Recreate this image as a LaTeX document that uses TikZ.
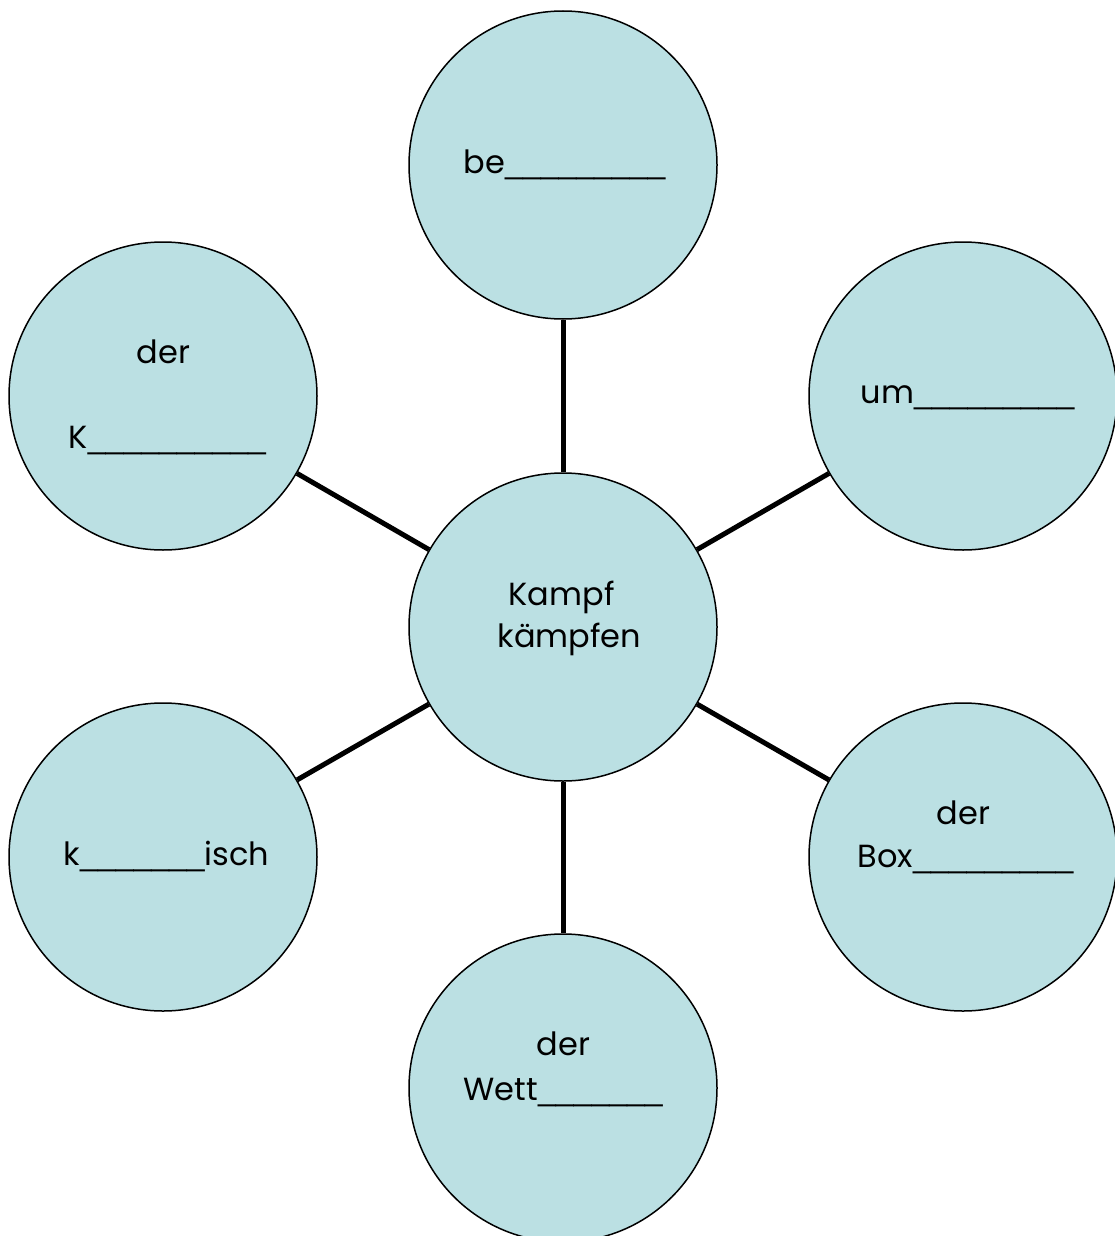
\documentclass[tikz,border=0pt]{standalone}
\usepackage{fontspec}
\setmainfont{Poppins}
\newfontfamily\ulfont{Liberation Sans}
\definecolor{circfill}{RGB}{187,224,227}
\tikzset{every picture/.style={line width=0.75pt}}
\tikzset{
  wordcirc/.style={circle,draw=black,fill=circfill,minimum size=154pt,inner sep=0pt,line width=0.75pt},
  spoke/.style={line width=2.5pt},
  wordtext/.style={anchor=base west,inner sep=0pt,font=\fontsize{16}{19}\selectfont}
}

\begin{document}
\begin{tikzpicture}[x=0.5pt,y=0.5pt,yscale=-1,xscale=1]
\useasboundingbox (0,0) rectangle (1114,1236);

%Shape: Circle [center]
\node [wordcirc] (kampf) at (563,627) {};
%Shape: Circle [top]
\node [wordcirc] (be) at (563,165) {};
%Shape: Circle [upper right]
\node [wordcirc] (um) at (963,396) {};
%Shape: Circle [lower right]
\node [wordcirc] (box) at (963,857) {};
%Shape: Circle [bottom]
\node [wordcirc] (wett) at (563,1088) {};
%Shape: Circle [lower left]
\node [wordcirc] (isch) at (163,857) {};
%Shape: Circle [upper left]
\node [wordcirc] (kaempfer) at (163,396) {};

%Straight Lines
\draw [spoke] (kampf) -- (be) ;
\draw [spoke] (kampf) -- (um) ;
\draw [spoke] (kampf) -- (box) ;
\draw [spoke] (kampf) -- (wett) ;
\draw [spoke] (kampf) -- (isch) ;
\draw [spoke] (kampf) -- (kaempfer) ;

% Text Node
\node [wordtext] (t1) at (508,605) {Kampf};
% Text Node
\node [wordtext] (t2) at (497,647) {kämpfen};
% Text Node
\node [wordtext] (t3) at (463,173) {be{\ulfont\_\_\_\_\_\_\_\_\_}};
% Text Node
\node [wordtext] (t4) at (860,403) {um{\ulfont\_\_\_\_\_\_\_\_\_}};
% Text Node
\node [wordtext] (t5) at (936,824) {der};
% Text Node
\node [wordtext] (t6) at (857,867) {Box{\ulfont\_\_\_\_\_\_\_\_\_}};
% Text Node
\node [wordtext] (t7) at (536,1055) {der};
% Text Node
\node [wordtext] (t8) at (463,1100) {Wett{\ulfont\_\_\_\_\_\_\_}};
% Text Node
\node [wordtext] (t9) at (63,865) {k{\ulfont\_\_\_\_\_\_\_}isch};
% Text Node
\node [wordtext] (t10) at (136,363) {der};
% Text Node
\node [wordtext] (t11) at (68,448) {K{\ulfont\_\_\_\_\_\_\_\_\_\_}};
\end{tikzpicture}
\end{document}
